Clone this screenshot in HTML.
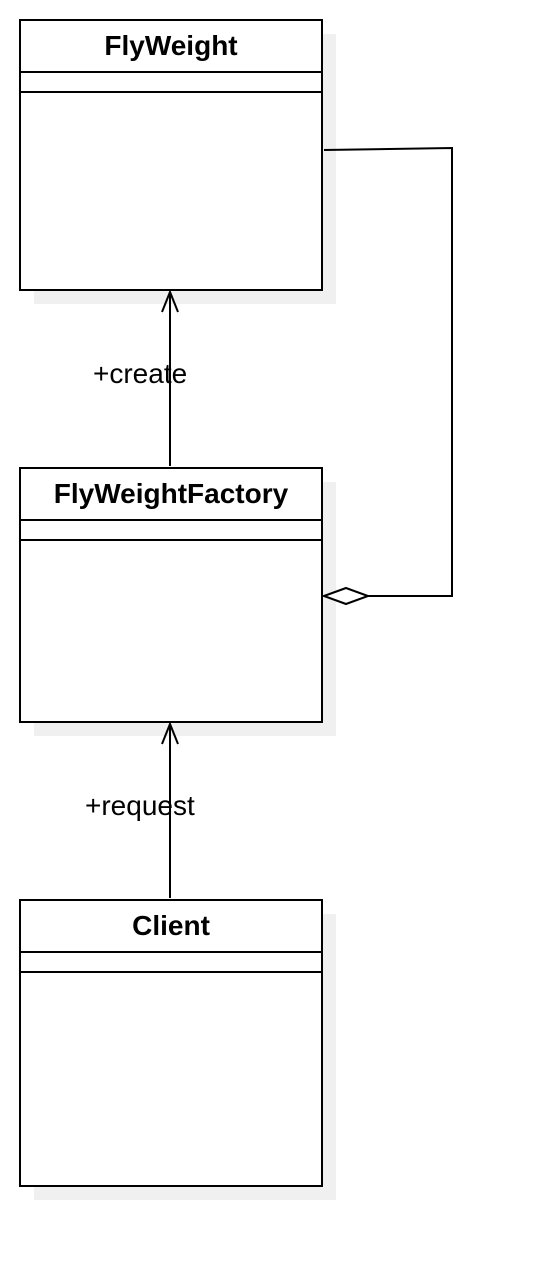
<!DOCTYPE html>
<html><head><meta charset="utf-8"><style>html,body{margin:0;padding:0;background:#fff}</style></head>
<body>
<svg width="534" height="1266" xmlns="http://www.w3.org/2000/svg" style="display:block">
<g fill="#f0f0f0">
<rect x="34" y="34" width="302" height="270"/>
<rect x="34" y="482" width="302" height="254"/>
<rect x="34" y="914" width="302" height="286"/>
</g>
<g fill="#fff" stroke="#000" stroke-width="2">
<rect x="20" y="20" width="302" height="270"/>
<rect x="20" y="468" width="302" height="254"/>
<rect x="20" y="900" width="302" height="286"/>
</g>
<g stroke="#000" stroke-width="2">
<line x1="20" y1="72" x2="322" y2="72"/><line x1="20" y1="92" x2="322" y2="92"/>
<line x1="20" y1="520" x2="322" y2="520"/><line x1="20" y1="540" x2="322" y2="540"/>
<line x1="20" y1="952" x2="322" y2="952"/><line x1="20" y1="972" x2="322" y2="972"/>
</g>
<g font-family="Liberation Sans, sans-serif" font-size="28" text-anchor="middle">
<text x="171" y="55" font-weight="bold">FlyWeight</text>
<text x="171" y="503" font-weight="bold">FlyWeightFactory</text>
<text x="171" y="935" font-weight="bold">Client</text>
</g>
<g fill="none" stroke="#000" stroke-width="2">
<line x1="170" y1="466" x2="170" y2="292"/>
<polyline points="162,312 170,292 178,312"/>
<line x1="170" y1="898" x2="170" y2="724"/>
<polyline points="162,744 170,724 178,744"/>
<polyline points="324,150 452,148 452,596 368,596"/>
<polygon points="324,596 346,588 368,596 346,604" fill="#fff"/>
</g>
<g font-family="Liberation Sans, sans-serif" font-size="28">
<text x="93" y="383">+create</text>
<text x="85" y="815">+request</text>
</g>
</svg>
</body></html>
